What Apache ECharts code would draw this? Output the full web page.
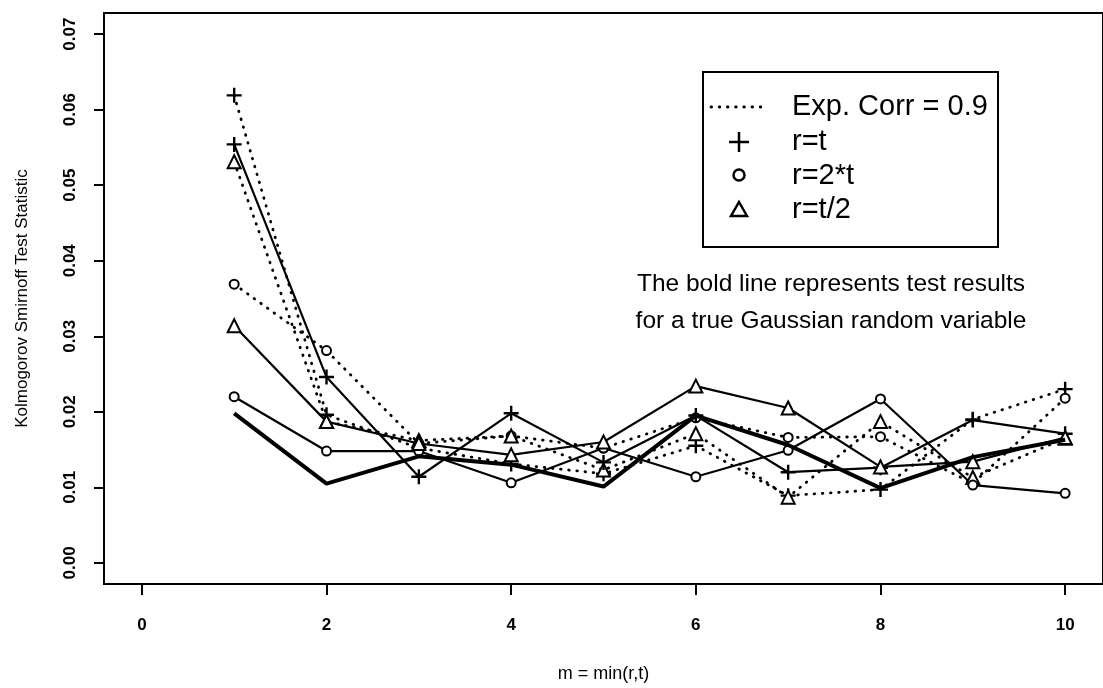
<!DOCTYPE html>
<html><head><meta charset="utf-8">
<script src="https://cdn.jsdelivr.net/npm/echarts@6/dist/echarts.min.js"></script>
<style>html,body{margin:0;padding:0;background:#fff}#c{width:1103px;height:688px}</style>
</head><body><div id="c"></div>
<script>
// ---- data ----
const mValues = [1, 2, 3, 4, 5, 6, 7, 8, 9, 10];
const xTicks = [0, 2, 4, 6, 8, 10];
const yTicks = [0, 0.01, 0.02, 0.03, 0.04, 0.05, 0.06, 0.07];

// bold line: true Gaussian random variable
const gaussBold     = [0.0198, 0.0105, 0.0141, 0.0130, 0.0101, 0.0195, 0.0156, 0.0099, 0.0140, 0.0163];
// solid lines (independent)
const indepPlus     = [0.0554, 0.0246, 0.0114, 0.0198, 0.0133, 0.0195, 0.0120, 0.0126, 0.0189, 0.0171];
const indepCircle   = [0.0220, 0.0148, 0.0148, 0.0106, 0.0152, 0.0114, 0.0149, 0.0217, 0.0103, 0.0092];
const indepTriangle = [0.0314, 0.0187, 0.0158, 0.0143, 0.0160, 0.0234, 0.0205, 0.0127, 0.0134, 0.0166];
// dotted lines: Exp. Corr = 0.9
const corrPlus      = [0.0619, 0.0196, 0.0152, 0.0131, 0.0118, 0.0155, 0.0089, 0.0097, 0.0190, 0.0230];
const corrCircle    = [0.0369, 0.0281, 0.0158, 0.0168, 0.0152, 0.0192, 0.0166, 0.0167, 0.0105, 0.0218];
const corrTriangle  = [0.0531, 0.0187, 0.0162, 0.0168, 0.0123, 0.0171, 0.0087, 0.0187, 0.0113, 0.0165];

const legendLabels = ['Exp. Corr = 0.9', 'r=t', 'r=2*t', 'r=t/2'];
const noteLines = ['The bold line represents test results', 'for a true Gaussian random variable'];

// ---- chart ----
const FONT = '"Liberation Sans", Arial, Helvetica, sans-serif';
const pts = arr => mValues.map((m, i) => [m, arr[i]]);
const PLUS = 'path://M0,5L10,5M5,0L5,10';
const DOT = { type: [0.6, 7.6], cap: 'round', width: 2.8, color: '#000' };
const SOLID = { type: 'solid', width: 2.2, color: '#000' };

function mk(name, arr, symbol, size, line) {
  return {
    name, type: 'line', data: pts(arr), symbol, symbolSize: size,
    showAllSymbol: true, lineStyle: line,
    itemStyle: { color: '#000', borderColor: '#000', borderWidth: 2.4 },
    emphasis: { disabled: true }, z: 3
  };
}

const chart = echarts.init(document.getElementById('c'), null, { renderer: 'canvas' });
const lx = 739, ltx = 792;
chart.setOption({
  animation: false,
  backgroundColor: '#fff',
  grid: { left: 104, top: 13, right: -14, bottom: 98, show: true, borderColor: '#000', borderWidth: 2, backgroundColor: 'transparent' },
  xAxis: {
    type: 'value', min: -0.41, max: 10.41,
    name: 'm = min(r,t)', nameLocation: 'middle', nameGap: 81,
    nameTextStyle: { fontFamily: FONT, fontSize: 18, color: '#000' },
    axisLine: { show: false, onZero: false },
    axisTick: { show: true, customValues: xTicks, length: 11, lineStyle: { color: '#000', width: 2 } },
    axisLabel: { customValues: xTicks, margin: 33, fontFamily: FONT, fontSize: 17, fontWeight: 'bold', color: '#000' },
    splitLine: { show: false }
  },
  yAxis: {
    type: 'value', min: -0.0028, max: 0.0728,
    name: 'Kolmogorov Smirnoff Test Statistic', nameLocation: 'middle', nameGap: 73, nameRotate: 90,
    nameTextStyle: { fontFamily: FONT, fontSize: 17, color: '#000' },
    axisLine: { show: false, onZero: false },
    axisTick: { show: true, customValues: yTicks, length: 10, lineStyle: { color: '#000', width: 2 } },
    axisLabel: { customValues: yTicks, rotate: 90, margin: 25, fontFamily: FONT, fontSize: 17, fontWeight: 'bold', color: '#000',
      formatter: v => v.toFixed(2) },
    splitLine: { show: false }
  },
  series: [
    mk('corrPlus', corrPlus, PLUS, 15, DOT),
    mk('corrCircle', corrCircle, 'emptyCircle', 9, DOT),
    mk('corrTriangle', corrTriangle, 'emptyTriangle', 13, DOT),
    mk('indepPlus', indepPlus, PLUS, 15, SOLID),
    mk('indepCircle', indepCircle, 'emptyCircle', 9, SOLID),
    mk('indepTriangle', indepTriangle, 'emptyTriangle', 13, SOLID),
    { name: 'gauss', type: 'line', data: pts(gaussBold), symbol: 'none',
      lineStyle: { width: 4, color: '#000' }, emphasis: { disabled: true }, z: 4 }
  ],
  graphic: [
    { type: 'rect', shape: { x: 703, y: 72, width: 295, height: 175 },
      style: { fill: '#fff', stroke: '#000', lineWidth: 2 }, z: 10 },
    { type: 'line', shape: { x1: 711, y1: 107, x2: 767, y2: 107 },
      style: { stroke: '#000', lineWidth: 2.8, lineDash: [0.6, 7.6], lineCap: 'round' }, z: 11 },
    { type: 'line', shape: { x1: lx - 10, y1: 142, x2: lx + 10, y2: 142 }, style: { stroke: '#000', lineWidth: 2.5 }, z: 11 },
    { type: 'line', shape: { x1: lx, y1: 132, x2: lx, y2: 152 }, style: { stroke: '#000', lineWidth: 2.5 }, z: 11 },
    { type: 'circle', shape: { cx: lx, cy: 175, r: 5.5 }, style: { fill: '#fff', stroke: '#000', lineWidth: 2.5 }, z: 11 },
    { type: 'polygon', shape: { points: [[lx, 202], [lx + 8, 216], [lx - 8, 216]] }, style: { fill: '#fff', stroke: '#000', lineWidth: 2.5 }, z: 11 },
    ...legendLabels.map((t, i) => ({
      type: 'text', x: ltx, y: [107, 142, 176, 210][i], z: 11,
      style: { text: t, fontFamily: FONT, fontSize: 29, fill: '#000', textVerticalAlign: 'middle', textAlign: 'left' }
    })),
    ...noteLines.map((t, i) => ({
      type: 'text', x: 831, y: [284, 321][i], z: 11,
      style: { text: t, fontFamily: FONT, fontSize: 24.5, fill: '#000', textVerticalAlign: 'middle', textAlign: 'center' }
    }))
  ]
});
</script></body></html>
